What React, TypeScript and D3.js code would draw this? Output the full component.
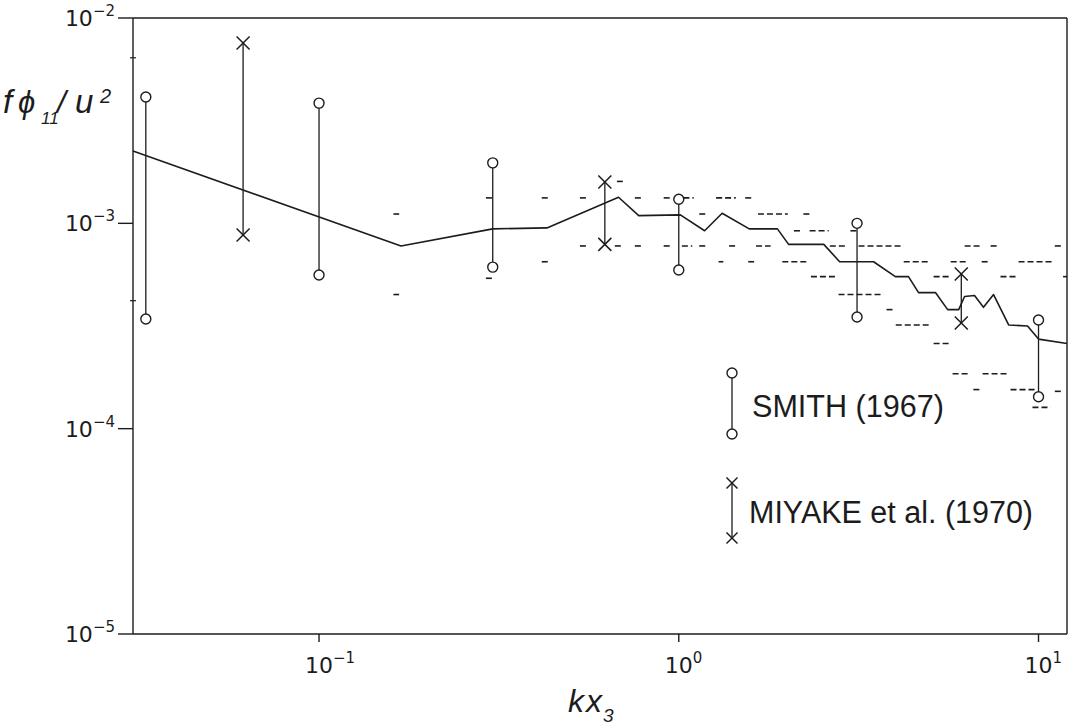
import React from 'react';
import * as d3 from 'd3';

const W = 1078;
const H = 728;

// axis extents
const xDomain = [0.0304, 12];
const yDomain = [1e-5, 1e-2];

const xTicks = [0.1, 1, 10];
const xTickExp = ['-1', '0', '1'];
const yTicks = [1e-2, 1e-3, 1e-4, 1e-5];
const yTickExp = ['-2', '-3', '-4', '-5'];
const leftAxisMarks = [6.4e-3, 4.2e-4];

// mean spectrum (solid line)
const meanKx = [0.0304, 0.169, 0.304, 0.43, 0.68, 0.774, 1.01, 1.18, 1.32, 1.57, 1.88, 2.02, 2.53, 2.8, 3.48, 4.0, 4.35, 4.64, 5.17, 5.59, 6.0, 6.23, 6.64, 7.03, 7.5, 8.26, 9.32, 10.0, 12.0];
const meanVal = [2.25e-3, 7.75e-4, 9.4e-4, 9.5e-4, 1.34e-3, 1.09e-3, 1.1e-3, 9.2e-4, 1.12e-3, 9.4e-4, 9.4e-4, 7.9e-4, 7.9e-4, 6.5e-4, 6.5e-4, 5.5e-4, 5.5e-4, 4.6e-4, 4.6e-4, 3.8e-4, 3.8e-4, 4.4e-4, 4.45e-4, 3.9e-4, 4.5e-4, 3.2e-4, 3.16e-4, 2.73e-4, 2.6e-4];

// SMITH (1967) ranges
const smithKx = [0.033, 0.1, 0.304, 1.0, 3.13, 10.0];
const smithHigh = [4.12e-3, 3.85e-3, 1.97e-3, 1.31e-3, 1.0e-3, 3.38e-4];
const smithLow = [3.42e-4, 5.6e-4, 6.12e-4, 5.93e-4, 3.5e-4, 1.43e-4];

// MIYAKE et al. (1970) ranges
const miyakeKx = [0.0615, 0.623, 6.1];
const miyakeHigh = [7.55e-3, 1.59e-3, 5.66e-4];
const miyakeLow = [8.77e-4, 7.9e-4, 3.27e-4];

// individual short dashes: start kx, end kx, value
const dashStart = [0.161, 0.161, 0.291, 0.291, 0.416, 0.416, 0.531, 0.531, 0.673, 0.664, 0.755, 0.755, 0.908, 0.908, 1.03, 1.02, 1.14, 1.14, 1.27, 1.53, 1.29, 1.38, 1.56, 1.64, 1.66, 2.22, 2.09, 2.31, 3.0, 1.94, 2.33, 2.63, 3.16, 2.78, 3.78, 4.01, 5.11, 4.22, 5.11, 5.7, 6.23, 7.36, 6.95, 8.8, 7.84, 11.1, 11.7, 5.77, 6.99, 6.59, 8.36, 11.1, 9.62];
const dashEnd = [0.167, 0.167, 0.303, 0.303, 0.438, 0.438, 0.559, 0.559, 0.699, 0.699, 0.794, 0.794, 0.957, 0.957, 1.1, 1.09, 1.19, 1.19, 1.44, 1.61, 1.33, 1.44, 1.62, 1.8, 2.01, 2.31, 2.18, 2.61, 3.14, 2.3, 2.77, 2.91, 4.19, 3.71, 3.93, 4.95, 5.7, 5.01, 5.66, 6.35, 6.9, 7.69, 7.26, 10.9, 8.74, 11.6, 12.0, 6.39, 8.2, 6.86, 9.93, 11.7, 10.8];
const dashVal = [1.11e-3, 4.5e-4, 1.33e-3, 5.4e-4, 1.33e-3, 6.5e-4, 1.33e-3, 7.76e-4, 1.6e-3, 7.76e-4, 1.33e-3, 7.76e-4, 1.33e-3, 7.76e-4, 1.33e-3, 7.76e-4, 1.11e-3, 7.76e-4, 1.33e-3, 1.33e-3, 6.5e-4, 7.76e-4, 6.5e-4, 7.76e-4, 1.11e-3, 1.11e-3, 9.2e-4, 9.2e-4, 9.2e-4, 6.5e-4, 5.5e-4, 7.76e-4, 7.76e-4, 4.5e-4, 3.8e-4, 3.2e-4, 2.6e-4, 6.5e-4, 5.5e-4, 6.5e-4, 7.76e-4, 7.76e-4, 6.5e-4, 6.5e-4, 5.5e-4, 7.76e-4, 5.5e-4, 1.85e-4, 1.85e-4, 1.55e-4, 1.55e-4, 1.52e-4, 1.27e-4];

const legendLabels = ['SMITH (1967)', 'MIYAKE et al. (1970)'];

const INK = '#1c1c1c';
const FONT = '"Liberation Sans", Arial, sans-serif';
const TICKFONT = '"DejaVu Sans", sans-serif';

function Cross({ x, y, s }: { x: number; y: number; s: number }) {
  return (
    <g stroke={INK} strokeWidth={1.5}>
      <line x1={x - s} y1={y - s} x2={x + s} y2={y + s} />
      <line x1={x - s} y1={y + s} x2={x + s} y2={y - s} />
    </g>
  );
}

export default function App() {
  const x = d3.scaleLog().domain(xDomain).range([133, 1067]);
  const y = d3.scaleLog().domain(yDomain).range([634, 18]);
  const [x0, x1] = x.range();
  const [y0, y1] = y.range();

  const meanData = meanKx.map((k, i) => [k, meanVal[i]] as [number, number]);
  const line = d3
    .line<[number, number]>()
    .x((d) => x(d[0]))
    .y((d) => y(d[1]));

  const r = 5;
  const cs = 6.5;

  return (
    <svg
      width={W}
      height={H}
      viewBox={`0 0 ${W} ${H}`}
      style={{ position: 'absolute', left: 0, top: 0, background: '#fff' }}
    >
      <rect x={0} y={0} width={W} height={H} fill="#fff" />

      {/* frame */}
      <g stroke={INK} strokeWidth={1.4} fill="none">
        <line x1={x0} y1={y0} x2={x1} y2={y0} />
        <line x1={x0} y1={y1} x2={x1} y2={y1} />
        <line x1={x0} y1={y0} x2={x0} y2={y1} />
        <line x1={x1} y1={y0} x2={x1} y2={y1} />
      </g>

      {/* y ticks */}
      {yTicks.map((t, i) => (
        <g key={'yt' + i}>
          <line x1={x0 - 15} x2={x0} y1={y(t)} y2={y(t)} stroke={INK} strokeWidth={1.4} />
          <text
            x={115}
            y={y(t) + 8}
            textAnchor="end"
            fontFamily={TICKFONT}
            fontSize={22}
            fill={INK}
          >
            10
            <tspan fontSize={15} dy={-10}>
              {yTickExp[i].replace('-', '\u2212')}
            </tspan>
          </text>
        </g>
      ))}
      {leftAxisMarks.map((t, i) => (
        <line key={'lm' + i} x1={x0 - 3} x2={x0 + 3} y1={y(t)} y2={y(t)} stroke={INK} strokeWidth={1.2} />
      ))}

      {/* x ticks */}
      {xTicks.map((t, i) => (
        <g key={'xt' + i}>
          <line x1={x(t)} x2={x(t)} y1={y0} y2={y0 + 8} stroke={INK} strokeWidth={1.4} />
          <text x={x(t) - 14} y={y0 + 39} fontFamily={TICKFONT} fontSize={22} fill={INK}>
            10
            <tspan fontSize={15} dy={-10}>
              {xTickExp[i].replace('-', '\u2212')}
            </tspan>
          </text>
        </g>
      ))}

      {/* axis titles */}
      <g fontFamily={FONT} fontStyle="italic" fill={INK}>
        <text x={3} y={113} fontSize={33}>f</text>
        <text x={18} y={113} fontSize={31}>ϕ</text>
        <text x={41} y={124} fontSize={17}>11</text>
        <text x={57} y={113} fontSize={32}>/</text>
        <text x={75} y={113} fontSize={33}>u</text>
        <text x={100} y={103} fontSize={20}>2</text>

        <text x={568} y={712} fontSize={32}>k</text>
        <text x={586} y={712} fontSize={32}>x</text>
        <text x={603} y={722} fontSize={19}>3</text>
      </g>

      {/* dashes */}
      <g stroke={INK} strokeWidth={1.6} strokeDasharray="6,3">
        {dashVal.map((v, i) => (
          <line key={'d' + i} x1={x(dashStart[i])} x2={x(dashEnd[i])} y1={y(v)} y2={y(v)} />
        ))}
      </g>

      {/* mean line */}
      <path d={line(meanData) || ''} fill="none" stroke={INK} strokeWidth={1.6} strokeLinejoin="round" />

      {/* Smith ranges */}
      {smithKx.map((k, i) => (
        <g key={'s' + i}>
          <line
            x1={x(k)}
            x2={x(k)}
            y1={y(smithHigh[i]) + r}
            y2={y(smithLow[i]) - r}
            stroke={INK}
            strokeWidth={1.3}
          />
          <circle cx={x(k)} cy={y(smithHigh[i])} r={r} fill="#fff" stroke={INK} strokeWidth={1.4} />
          <circle cx={x(k)} cy={y(smithLow[i])} r={r} fill="#fff" stroke={INK} strokeWidth={1.4} />
        </g>
      ))}

      {/* Miyake ranges */}
      {miyakeKx.map((k, i) => (
        <g key={'m' + i}>
          <line
            x1={x(k)}
            x2={x(k)}
            y1={y(miyakeHigh[i])}
            y2={y(miyakeLow[i])}
            stroke={INK}
            strokeWidth={1.3}
          />
          <Cross x={x(k)} y={y(miyakeHigh[i])} s={cs} />
          <Cross x={x(k)} y={y(miyakeLow[i])} s={cs} />
        </g>
      ))}

      {/* legend */}
      <g>
        <line x1={732} x2={732} y1={373 + r} y2={434 - r} stroke={INK} strokeWidth={1.3} />
        <circle cx={732} cy={373} r={r} fill="#fff" stroke={INK} strokeWidth={1.4} />
        <circle cx={732} cy={434} r={r} fill="#fff" stroke={INK} strokeWidth={1.4} />
        <text x={752} y={417} fontFamily={FONT} fontSize={31} fill={INK} textLength={192} lengthAdjust="spacingAndGlyphs">
          {legendLabels[0]}
        </text>

        <line x1={732} x2={732} y1={483} y2={538} stroke={INK} strokeWidth={1.3} />
        <Cross x={732} y={483} s={5.5} />
        <Cross x={732} y={538} s={5.5} />
        <text x={749} y={523} fontFamily={FONT} fontSize={31} fill={INK} textLength={284} lengthAdjust="spacingAndGlyphs">
          {legendLabels[1]}
        </text>
      </g>
    </svg>
  );
}
